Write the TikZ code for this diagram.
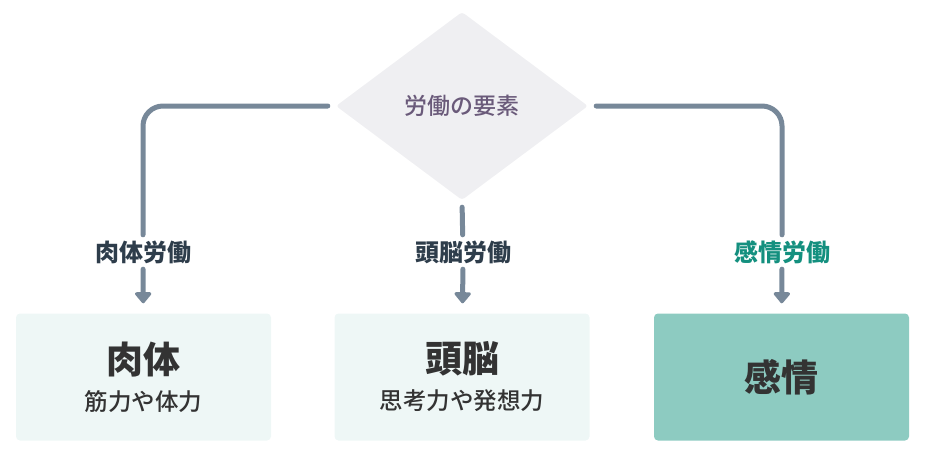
\documentclass[tikz,border=0pt]{standalone}
\usepackage{fontspec}
\usepackage{tikz}
\usetikzlibrary{shapes.geometric,arrows.meta}

\newfontfamily\jp{Noto Sans CJK JP}
\newfontfamily\jpmed{Noto Sans CJK JP Medium}

\definecolor{linea}{HTML}{778899}
\definecolor{fondoGris}{HTML}{EFEFF2}
\definecolor{fondoClaro}{HTML}{EEF7F6}
\definecolor{fondoVerde}{HTML}{8DCBC1}
\definecolor{textoMorado}{HTML}{6A5A7A}
\definecolor{textoOscuro}{HTML}{2E3D4B}
\definecolor{textoCaja}{HTML}{333333}
\definecolor{textoVerde}{HTML}{14907F}

\begin{document}
\begin{tikzpicture}[
    x=1pt, y=-1pt,
    % rombo central
    rombo/.style={diamond, aspect=1.34, fill=fondoGris, rounded corners=3pt,
        minimum width=252pt, minimum height=188pt, inner sep=0pt,
        font=\jpmed\fontsize{23}{26}\selectfont, text=textoMorado},
    % etiquetas sobre las flechas
    etiqueta/.style={inner sep=0pt, minimum height=34pt,
        font=\jp\bfseries\fontsize{24}{26}\selectfont, text=textoOscuro},
    % cajas inferiores
    caja/.style={rectangle, rounded corners=4pt, minimum width=255pt, minimum height=127pt,
        align=center, text=textoCaja, fill=fondoClaro, font=\jpmed\fontsize{23.5}{37}\selectfont},
    conector/.style={draw=linea, line width=5pt, line cap=round, rounded corners=20pt},
    flecha/.style={conector, -{Triangle[width=19pt,length=12pt,round]}, shorten >=10pt}
]

    \useasboundingbox (0,0) rectangle (925,453);

    % --- NODOS ---
    \node[rombo] (elem) at (462,106) {労働の要素};

    \node[etiqueta] (l1) at (143,252) {肉体労働};
    \node[etiqueta] (l2) at (463,252) {頭脳労働};
    \node[etiqueta, text=textoVerde] (l3) at (782,252) {感情労働};

    \node[caja] (b1) at (143.5,377)
        {{\jp\bfseries\fontsize{37}{42}\selectfont 肉体}\\筋力や体力};
    \node[caja] (b2) at (462,377)
        {{\jp\bfseries\fontsize{37}{42}\selectfont 頭脳}\\思考力や発想力};
    \node[caja, fill=fondoVerde] (b3) at (781.5,377)
        {{\jp\bfseries\fontsize{37}{42}\selectfont 感情}};

    % --- CONECTORES ---
    \draw[conector, shorten <=8pt] (elem.west) -| (l1);
    \draw[conector, shorten <=7pt] (elem.south) -- (l2);
    \draw[conector, shorten <=8pt] (elem.east) -| (l3);

    \draw[flecha] (l1) -- (b1);
    \draw[flecha] (l2) -- (b2);
    \draw[flecha] (l3) -- (b3);

\end{tikzpicture}
\end{document}
